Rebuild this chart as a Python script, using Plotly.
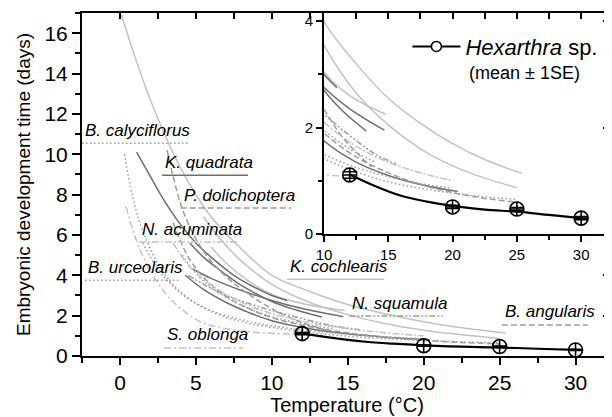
import plotly.graph_objects as go

# ---------------- data ----------------
# Hexarthra sp. observations (mean, SE) and fitted curve
hex_temp = [12, 20, 25, 30]
hex_time = [1.11, 0.51, 0.47, 0.30]
hex_se = [0.06, 0.03, 0.03, 0.03]
hex_fit_T = [12, 14, 16, 18, 20, 22.5, 25, 27.5, 30]
hex_fit_D = [1.12, 0.90, 0.72, 0.61, 0.53, 0.46, 0.42, 0.36, 0.30]

# literature curves (temperature, development time)
kc1_T = [0.1, 1, 2, 3, 4, 5, 6, 8, 10, 12.5, 15, 17.5, 20, 22.5, 25.4]
kc1_D = [16.9, 14.8, 12.7, 10.9, 9.3, 8.0, 6.9, 5.3, 4.0, 3.2, 2.55, 2.08, 1.7, 1.4, 1.14]
kc2_T = [5.5, 6.5, 8, 10, 12.5, 15, 17.5, 20, 22.5, 25]
kc2_D = [6.9, 5.9, 4.7, 3.55, 2.65, 2.05, 1.6, 1.28, 1.05, 0.87]
kc3_T = [6, 7, 8.5, 10, 12, 14.8]
kc3_D = [5.4, 4.6, 3.7, 3.05, 2.6, 2.25]
kq1_T = [1.1, 2, 3, 4, 5, 6, 7.5, 9, 10, 11]
kq1_D = [10.1, 8.9, 7.6, 6.5, 5.6, 4.9, 4.0, 3.35, 3.0, 2.75]
kq2_T = [4.6, 5.5, 6.5, 8, 10, 11.5, 13.3]
kq2_D = [5.6, 4.9, 4.3, 3.5, 2.7, 2.3, 1.93]
kq3_T = [4.8, 6, 8, 10, 12, 14.7]
kq3_D = [4.3, 3.85, 3.25, 2.75, 2.35, 1.95]
kq4_T = [4.3, 5.5, 7, 8.5, 10, 12.5, 15, 17.5, 20.4]
kq4_D = [4.0, 3.3, 2.65, 2.15, 1.75, 1.35, 1.1, 0.93, 0.8]
pd_T = [3.1, 3.6, 4.1, 5, 6, 7.5, 9, 10, 11.5, 13.7]
pd_D = [10.2, 8.6, 7.3, 5.8, 4.7, 3.6, 2.8, 2.35, 1.8, 1.26]
ba_T = [3.5, 4.5, 5.5, 7, 8.5, 10, 12.5, 15, 17.5, 20, 22.5, 25]
ba_D = [6.6, 4.9, 3.9, 2.95, 2.35, 1.9, 1.45, 1.15, 0.93, 0.78, 0.67, 0.6]
bc1_T = [0.3, 0.8, 1.4, 2.2, 3, 3.8, 5, 6.5, 8, 10, 12.5, 15, 17.5, 20, 22.5, 25]
bc1_D = [10.0, 8.0, 6.4, 5.0, 4.0, 3.3, 2.6, 2.05, 1.7, 1.42, 1.17, 0.98, 0.86, 0.77, 0.7, 0.65]
bc2_T = [4.1, 5, 6, 7.5, 9, 10, 12, 14]
bc2_D = [5.0, 4.1, 3.4, 2.7, 2.2, 1.95, 1.6, 1.35]
bu_T = [1.5, 2.5, 3.5, 4.5, 6, 8, 10, 12.5, 15, 17.5, 20]
bu_D = [5.6, 4.3, 3.45, 2.85, 2.25, 1.8, 1.5, 1.25, 1.08, 0.95, 0.86]
ns_T = [4.5, 5.5, 7, 8.5, 10, 12, 14, 15.8]
ns_D = [4.0, 3.55, 3.0, 2.6, 2.25, 1.85, 1.5, 1.3]
na_T = [3.5, 4.5, 5.5, 7, 8.5, 10, 12.5, 15, 17.5, 20]
na_D = [5.6, 4.5, 3.8, 3.05, 2.5, 2.1, 1.65, 1.35, 1.15, 1.0]
so_T = [0.4, 1, 1.8, 3, 4, 5.3, 7, 9, 11.5]
so_D = [7.4, 5.9, 4.5, 3.1, 2.35, 1.7, 1.35, 1.17, 1.08]

species = ["B. calyciflorus", "K. quadrata", "P. dolichoptera", "N. acuminata",
           "B. urceolaris", "K. cochlearis", "N. squamula", "B. angularis", "S. oblonga"]
# key lines: start / end temperature and level
key_T0 = [-2.5, 2.76, 4.0, 1.25, -2.3, 11.0, 15.1, 25.15, 2.9]
key_T1 = [4.6, 8.43, 11.26, 7.7, 4.0, 17.4, 21.25, 30.8, 8.1]
key_D = [10.55, 8.96, 7.33, 5.65, 3.76, 3.81, 1.98, 1.54, 0.40]

curves = [
    ("K. cochlearis", kc1_T, kc1_D), ("K. cochlearis", kc2_T, kc2_D),
    ("K. cochlearis", kc3_T, kc3_D),
    ("K. quadrata", kq1_T, kq1_D), ("K. quadrata", kq2_T, kq2_D),
    ("K. quadrata", kq3_T, kq3_D), ("K. quadrata", kq4_T, kq4_D),
    ("P. dolichoptera", pd_T, pd_D), ("B. angularis", ba_T, ba_D),
    ("B. calyciflorus", bc1_T, bc1_D), ("B. calyciflorus", bc2_T, bc2_D),
    ("B. urceolaris", bu_T, bu_D), ("N. squamula", ns_T, ns_D),
    ("N. acuminata", na_T, na_D), ("S. oblonga", so_T, so_D),
]

# ---------------- styles ----------------
LIGHT = "#c2c2c2"
MID = "#9c9c9c"
DARK = "#6e6e6e"
style = {
    "B. calyciflorus": (MID, "1.5px,2.5px"),
    "K. quadrata": (DARK, "solid"),
    "P. dolichoptera": (MID, "6px,3px"),
    "N. acuminata": (LIGHT, "7px,2px,2px,2px"),
    "B. urceolaris": (MID, "1.5px,2.5px"),
    "K. cochlearis": (LIGHT, "solid"),
    "N. squamula": (MID, "6px,2px,2px,2px,2px,2px"),
    "B. angularis": (MID, "6px,3px"),
    "S. oblonga": (LIGHT, "7px,3px,2px,3px"),
}
FONT = "Liberation Sans, Arial, sans-serif"

fig = go.Figure()

for ax, ay in (("x", "y"), ("x2", "y2")):
    for sp, T, D in curves:
        col, dash = style[sp]
        fig.add_trace(go.Scatter(x=T, y=D, mode="lines", xaxis=ax, yaxis=ay,
                                 line=dict(color=col, width=1.5, dash=dash, shape="spline"),
                                 showlegend=False, hoverinfo="skip"))
    fig.add_trace(go.Scatter(x=hex_fit_T, y=hex_fit_D, mode="lines", xaxis=ax, yaxis=ay,
                             line=dict(color="black", width=2.2, shape="spline"),
                             showlegend=False))
    fig.add_trace(go.Scatter(x=hex_temp, y=hex_time, mode="markers", xaxis=ax, yaxis=ay,
                             marker=dict(symbol="circle-cross-open", size=14, color="black",
                                         line=dict(width=1.6, color="black")),
                             error_y=dict(type="data", array=hex_se, color="black",
                                          thickness=1.5, width=7),
                             showlegend=False))

# key lines for species labels
for i, sp in enumerate(species):
    col, dash = style[sp]
    fig.add_trace(go.Scatter(x=[key_T0[i], key_T1[i]], y=[key_D[i], key_D[i]], mode="lines",
                             xaxis="x", yaxis="y",
                             line=dict(color=col, width=1.5, dash=dash),
                             showlegend=False, hoverinfo="skip"))
    fig.add_annotation(x=key_T0[i], y=key_D[i], xref="x", yref="y", text="<i>%s</i>" % sp,
                       showarrow=False, xanchor="left", yanchor="middle", yshift=13, xshift=1,
                       font=dict(family=FONT, size=17, color="black"))

# legend entry for Hexarthra
fig.add_trace(go.Scatter(x=[None], y=[None], mode="lines+markers", xaxis="x2", yaxis="y2",
                         name="<i>Hexarthra</i> sp.",
                         line=dict(color="black", width=2),
                         marker=dict(symbol="circle", size=10, color="white",
                                     line=dict(width=1.5, color="black"))))
fig.add_annotation(x=0.727, y=0.825, xref="paper", yref="paper", text="(mean ± 1SE)",
                   showarrow=False, xanchor="left", yanchor="middle",
                   font=dict(family=FONT, size=18, color="black"))

# dummy traces for mirrored axes
fig.add_trace(go.Scatter(x=[None], y=[None], xaxis="x3", yaxis="y3", showlegend=False))
fig.add_trace(go.Scatter(x=[None], y=[None], xaxis="x4", yaxis="y4", showlegend=False))

common = dict(showgrid=False, zeroline=False, showline=True, linecolor="black",
              linewidth=2, tickcolor="black", tickwidth=1.5)
xr = [-2.5, 32.4]
yr = [0, 17]
ixr = [10, 32.4]
iyr = [0, 4.15]

fig.update_layout(
    width=604, height=409,
    margin=dict(l=74, r=0, t=5, b=61),
    paper_bgcolor="white", plot_bgcolor="white",
    font=dict(family=FONT, color="black"),
    showlegend=True,
    legend=dict(x=0.614, y=0.902, xanchor="left", yanchor="middle",
                bgcolor="rgba(0,0,0,0)", font=dict(family=FONT, size=22),
                itemwidth=48, tracegroupgap=0),
    xaxis=dict(range=xr, domain=[0, 1], anchor="y", tickvals=[0, 5, 10, 15, 20, 25, 30],
               ticks="outside", ticklen=7,
               minor=dict(tickvals=[-2.5, 2.5, 7.5, 12.5, 17.5, 22.5, 27.5], ticks="outside",
                          ticklen=5, tickcolor="black", tickwidth=1.5),
               tickfont=dict(size=21),
               title=dict(text="Temperature (°C)", font=dict(size=20), standoff=3), **common),
    yaxis=dict(range=yr, domain=[0, 1], anchor="x", tickvals=[0, 2, 4, 6, 8, 10, 12, 14, 16],
               ticks="outside", ticklen=8,
               minor=dict(dtick=1, tick0=0, ticks="outside", ticklen=5, tickcolor="black",
                          tickwidth=1.5),
               tickfont=dict(size=21),
               title=dict(text="Embryonic development time (days)", font=dict(size=19),
                          standoff=9), **common),
    xaxis3=dict(range=xr, overlaying="x", side="top", anchor="y3",
                tickvals=[0, 2.5, 5, 7.5, 10, 12.5], ticks="inside", ticklen=6,
                showticklabels=False, **common),
    yaxis3=dict(range=yr, overlaying="y", side="right", anchor="x3",
                tickvals=[0, 2, 4, 6], ticks="inside", ticklen=9,
                minor=dict(tickvals=[1, 3, 5], ticks="inside", ticklen=6, tickcolor="black",
                           tickwidth=1.5),
                showticklabels=False, showgrid=False, zeroline=False, showline=False,
                tickcolor="black", tickwidth=1.5),
    xaxis2=dict(range=ixr, domain=[0.4566, 1], anchor="y2", tickvals=[10, 15, 20, 25, 30],
                ticks="outside", ticklen=6,
                minor=dict(tickvals=[12.5, 17.5, 22.5, 27.5], ticks="outside", ticklen=4,
                           tickcolor="black", tickwidth=1.5),
                tickfont=dict(size=15), **common),
    yaxis2=dict(range=iyr, domain=[0.3554, 1], anchor="x2", tickvals=[0, 2, 4],
                ticks="outside", ticklen=6,
                minor=dict(tickvals=[1, 3], ticks="outside", ticklen=4, tickcolor="black",
                           tickwidth=1.5),
                tickfont=dict(size=15), **common),
    xaxis4=dict(range=ixr, overlaying="x2", side="top", anchor="y4",
                tickvals=[12.5, 15, 17.5, 20, 22.5, 25, 27.5, 30], ticks="inside", ticklen=6,
                showticklabels=False, **common),
    yaxis4=dict(range=iyr, overlaying="y2", side="right", anchor="x4",
                tickvals=[0, 2, 4], ticks="inside", ticklen=9,
                minor=dict(tickvals=[1, 3], ticks="inside", ticklen=6, tickcolor="black",
                           tickwidth=1.5),
                showticklabels=False, showgrid=False, zeroline=False, showline=False,
                tickcolor="black", tickwidth=1.5),
)

fig.write_html("out.html")
